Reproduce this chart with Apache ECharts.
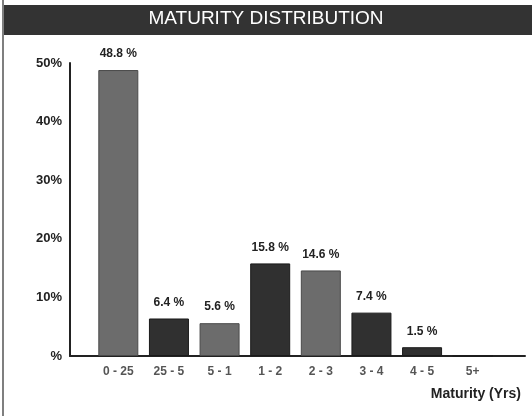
<!DOCTYPE html>
<html>
<head>
<meta charset="utf-8">
<script src="https://cdn.jsdelivr.net/npm/echarts@6/dist/echarts.min.js"></script>
<style>
  html, body { margin: 0; padding: 0; background: #fff; }
  #chart { width: 532px; height: 416px; }
</style>
</head>
<body>
<div id="chart"></div>
<script>
const categories = ['0 - 25', '25 - 5', '5 - 1', '1 - 2', '2 - 3', '3 - 4', '4 - 5', '5+']
const shares = [48.8, 6.4, 5.6, 15.8, 14.6, 7.4, 1.5, 0]
const shades = ['light', 'dark', 'light', 'dark', 'light', 'dark', 'dark', 'dark']
const yTicks = [0, 10, 20, 30, 40, 50]

const fontFamily = '"Liberation Sans", Arial, sans-serif'
const palette = {
  light: { color: '#6c6c6c', borderColor: '#4a4a4a' },
  dark: { color: '#303030', borderColor: '#1a1a1a' },
}

const chart = echarts.init(document.getElementById('chart'))

chart.setOption({
  backgroundColor: '#ffffff',
  animation: false,
  title: [
    {
      text: 'MATURITY DISTRIBUTION',
      left: 'center',
      top: 9,
      padding: 0,
      textStyle: { color: '#ffffff', fontSize: 19, fontWeight: 'normal', fontFamily },
    },
    {
      text: 'Maturity (Yrs)',
      right: 11,
      top: 387,
      padding: 0,
      textStyle: { color: '#222', fontSize: 14, fontWeight: 'bold', fontFamily },
    },
  ],
  graphic: [
    { type: 'rect', z: -1, shape: { x: 4, y: 5, width: 528, height: 30 }, style: { fill: '#333333' } },
    { type: 'line', shape: { x1: 3, y1: 0, x2: 3, y2: 416 }, style: { stroke: '#555', lineWidth: 1.5 } },
  ],
  grid: [
    { left: 93, right: 34, top: 63, bottom: 60 },
    { left: 70, right: 7, top: 63, bottom: 60 },
  ],
  xAxis: [
    {
      type: 'category',
      gridIndex: 0,
      data: categories,
      axisLine: { show: false },
      axisTick: { show: false },
      axisLabel: { color: '#555', fontSize: 12, fontWeight: 'bold', fontFamily, margin: 10 },
    },
    {
      type: 'category',
      gridIndex: 1,
      data: [''],
      axisLine: { lineStyle: { color: '#222', width: 2 } },
      axisTick: { show: false },
      axisLabel: { show: false },
    },
  ],
  yAxis: [
    {
      type: 'value',
      gridIndex: 0,
      min: yTicks[0],
      max: yTicks[yTicks.length - 1],
      interval: 10,
      offset: 23,
      axisLine: { show: true, lineStyle: { color: '#222', width: 2 } },
      axisTick: { show: false },
      splitLine: { show: false },
      axisLabel: {
        color: '#222',
        fontSize: 13,
        fontWeight: 'bold',
        fontFamily,
        margin: 8,
        formatter: v => (v === 0 ? '%' : v + '%'),
      },
    },
    { type: 'value', gridIndex: 1, show: false, min: 0, max: 50 },
  ],
  series: [
    {
      type: 'bar',
      xAxisIndex: 0,
      yAxisIndex: 0,
      barWidth: 40,
      data: shares.map((v, i) => ({
        value: v,
        itemStyle: { ...palette[shades[i]], borderWidth: 1 },
      })),
      label: {
        show: true,
        position: 'top',
        distance: 10,
        color: '#222',
        fontSize: 12,
        fontWeight: 'bold',
        fontFamily,
        formatter: p => (p.value > 0 ? p.value + ' %' : ''),
      },
    },
  ],
})
</script>
</body>
</html>
